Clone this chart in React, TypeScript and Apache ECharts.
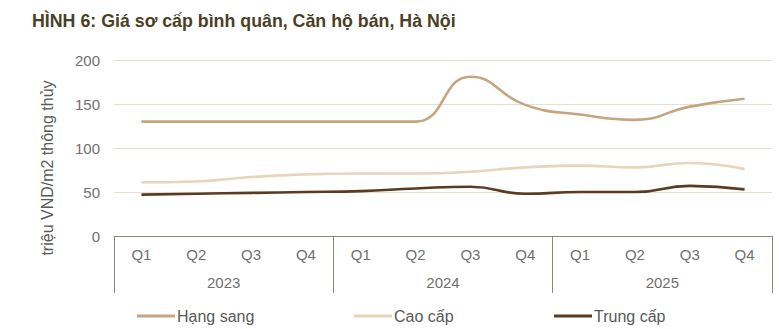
import React, { useEffect, useRef } from "react";
import * as echarts from "echarts";

// Quarterly primary prices, apartments for sale, Hanoi (million VND / m² net floor area)
const quarters = ["Q1", "Q2", "Q3", "Q4", "Q1", "Q2", "Q3", "Q4", "Q1", "Q2", "Q3", "Q4"];
const years = ["2023", "2024", "2025"];
const hangSang = [130, 130, 130, 130, 130, 130, 181, 149, 138, 132, 147, 156];
const caoCap = [61, 62, 67, 70, 71, 71, 73, 78, 80, 78, 83, 76];
const trungCap = [47, 48, 49, 50, 51, 54, 56, 48, 50, 50, 57, 53];
const seriesNames = ["Hạng sang", "Cao cấp", "Trung cấp"];
const seriesColors = ["#c5a47f", "#e7d5bb", "#5b3b1f"];

const FONT = "Liberation Sans, Arial, sans-serif";
const LINE_ICON = "path://M0,0 L40,0 L40,3 L0,3 Z";
const LABEL_COLOR = "#707070";
const FRAME_COLOR = "#8f867c";

export default function App() {
  const ref = useRef<HTMLDivElement>(null);

  useEffect(() => {
    if (!ref.current) return;
    const chart = echarts.init(ref.current, null, { renderer: "svg" });
    const values = [hangSang, caoCap, trungCap];
    const legendLefts = [137, 354, 554];

    chart.setOption({
      animation: false,
      backgroundColor: "#ffffff",
      textStyle: { fontFamily: FONT },
      title: {
        text: "HÌNH 6: Giá sơ cấp bình quân, Căn hộ bán, Hà Nội",
        left: 27,
        top: 7,
        textStyle: { fontFamily: FONT, fontSize: 17.8, fontWeight: "bold", color: "#4b3f26" },
      },
      legend: seriesNames.map((name, i) => ({
        data: [name],
        left: legendLefts[i],
        top: 308,
        padding: 0,
        icon: LINE_ICON,
        itemWidth: 38,
        itemHeight: 3,
        itemGap: 0,
        textStyle: { fontFamily: FONT, fontSize: 16, color: "#595959", padding: [0, 0, 0, -3] },
      })),
      grid: { left: 114, right: 7, top: 60, bottom: 93, containLabel: false },
      xAxis: [
        {
          type: "category",
          data: quarters,
          boundaryGap: true,
          position: "bottom",
          axisLine: { show: true, lineStyle: { color: FRAME_COLOR, width: 1 } },
          axisTick: { show: false },
          axisLabel: { color: LABEL_COLOR, fontSize: 15, fontFamily: FONT, margin: 11, interval: 0 },
          splitLine: { show: false },
        },
        {
          type: "category",
          data: years,
          boundaryGap: true,
          position: "bottom",
          axisLine: { show: false },
          axisTick: {
            show: true,
            inside: false,
            length: 57,
            lineStyle: { color: FRAME_COLOR, width: 1 },
          },
          axisLabel: { color: LABEL_COLOR, fontSize: 15, fontFamily: FONT, margin: 39 },
          splitLine: { show: false },
        },
      ],
      yAxis: {
        type: "value",
        min: 0,
        max: 200,
        interval: 50,
        name: "triệu VND/m2 thông thủy",
        nameLocation: "middle",
        nameGap: 59,
        nameRotate: 90,
        nameTextStyle: {
          fontFamily: FONT,
          fontSize: 16,
          color: "#595959",
          padding: [0, 40, 0, 0],
        },
        axisLine: { show: false },
        axisTick: { show: false },
        axisLabel: { color: LABEL_COLOR, fontSize: 15, fontFamily: FONT, margin: 14 },
        splitLine: {
          show: true,
          lineStyle: { color: "#e9dfd1", width: 1 },
          showMinLine: false,
        },
      },
      series: seriesNames.map((name, i) => ({
        name,
        type: "line",
        xAxisIndex: 0,
        data: values[i],
        smooth: 0.5,
        symbol: "none",
        lineStyle: { color: seriesColors[i], width: 2.6 },
        itemStyle: { color: seriesColors[i] },
        z: 3 + i,
      })),
    });

    return () => chart.dispose();
  }, []);

  return (
    <div
      ref={ref}
      style={{ position: "fixed", left: 0, top: 0, width: 779, height: 329 }}
    />
  );
}
